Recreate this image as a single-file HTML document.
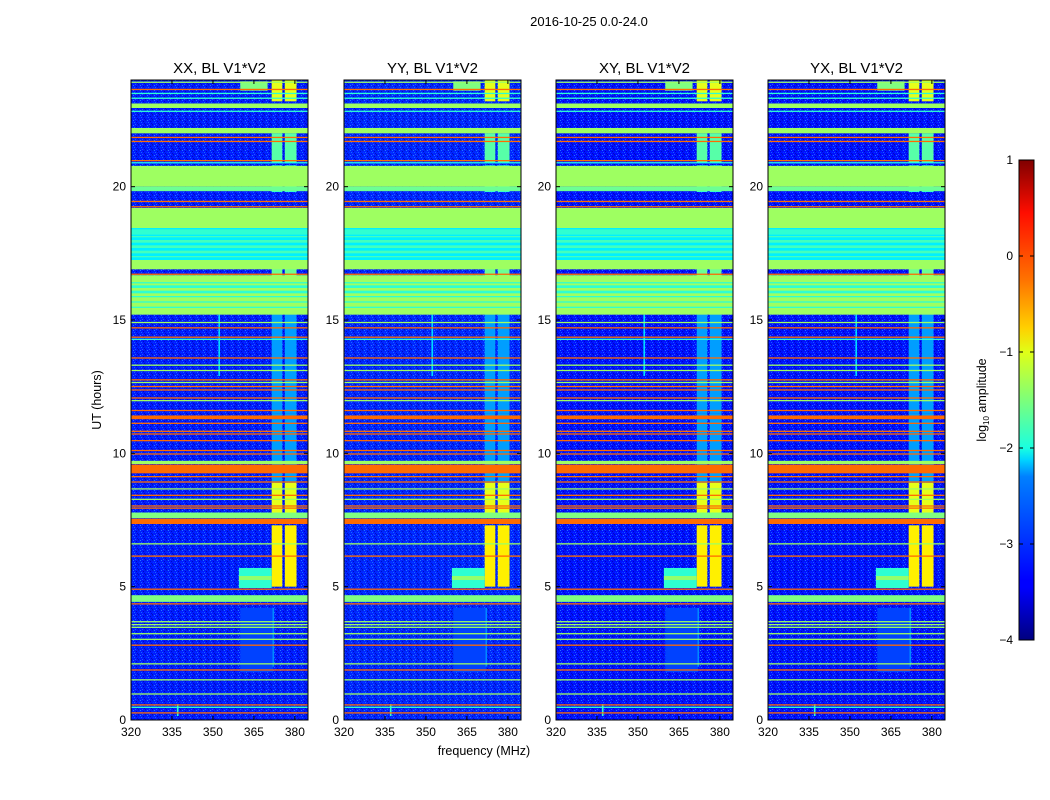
<!DOCTYPE html>
<html><head><meta charset="utf-8"><style>
body{margin:0;background:#fff;font-family:"Liberation Sans","DejaVu Sans",sans-serif;}
svg{display:block}
text{font-family:"Liberation Sans","DejaVu Sans",sans-serif;fill:#000}
</style></head><body>
<svg id="fig" width="1050" height="800" viewBox="0 0 1050 800" xmlns="http://www.w3.org/2000/svg">
<defs>
<linearGradient id="jet" x1="0" y1="1" x2="0" y2="0">
<stop offset="0" stop-color="#00007f"/><stop offset="0.11" stop-color="#0000ff"/><stop offset="0.125" stop-color="#0000ff"/>
<stop offset="0.34" stop-color="#0080ff"/><stop offset="0.375" stop-color="#00d4ff"/><stop offset="0.4" stop-color="#1affe0"/>
<stop offset="0.5" stop-color="#7dff7a"/><stop offset="0.6" stop-color="#e0ff17"/><stop offset="0.65" stop-color="#ffd000"/>
<stop offset="0.75" stop-color="#ff7300"/><stop offset="0.89" stop-color="#ff0d00"/><stop offset="1" stop-color="#800000"/>
</linearGradient>
<pattern id="noise" width="7" height="5" patternUnits="userSpaceOnUse">
<rect x="0" y="0" width="1" height="1" fill="#30a0ff" opacity="0.7"/><rect x="3" y="1" width="1" height="1" fill="#000090" opacity="0.6"/>
<rect x="1" y="2" width="1" height="1" fill="#20c0ff" opacity="0.5"/><rect x="4" y="3" width="1" height="1" fill="#0000a0" opacity="0.6"/>
<rect x="5" y="0" width="1" height="1" fill="#0030a0" opacity="0.5"/><rect x="2" y="4" width="1" height="1" fill="#4080ff" opacity="0.6"/>
<rect x="6" y="2" width="1" height="1" fill="#0050ff" opacity="0.6"/><rect x="5" y="4" width="1" height="1" fill="#000080" opacity="0.5"/>
</pattern>
</defs>
<text x="589" y="26" font-size="13" text-anchor="middle">2016-10-25 0.0-24.0</text>
<text x="484" y="755" font-size="12.5" text-anchor="middle">frequency (MHz)</text>
<text transform="translate(101,400) rotate(-90)" font-size="12.5" text-anchor="middle">UT (hours)</text>
<g id="panels"></g>
<g>
<rect x="1019" y="160" width="15" height="480" fill="url(#jet)" stroke="#000" stroke-width="1"/>
<g id="cbticks"></g>
<text transform="translate(986,400) rotate(-90)" font-size="12.5" text-anchor="middle">log<tspan font-size="8" dy="3">10</tspan><tspan dy="-3"> amplitude</tspan></text>
</g>
</svg>
<script>
// ---- data ----
const panelTitles = ["XX, BL V1*V2","YY, BL V1*V2","XY, BL V1*V2","YX, BL V1*V2"];
const xTicks = [320,335,350,365,380];
const yTicks = [0,5,10,15,20];
const cbTicks = [1,0,-1,-2,-3,-4];
const cbLabels = ["1","0","\u22121","\u22122","\u22123","\u22124"];
const backgroundLevel = [-3.25,-3.2,-3.3,-3.3];
// full-width time bands: [startHour, endHour, log10 amplitude]
const bandStart = [23.88,23.62,23.47,22.95,23.3,22.8,22.0,21.82,21.67,20.95,20.88,20.0,19.83,19.42,19.22,18.45,17.25,16.9,16.7,15.2,14.88,14.68,14.33,14.25,13.55,13.28,13.08,12.73,12.62,12.48,12.35,12.05,11.95,11.58,11.28,11.1,10.8,10.7,10.45,10.08,9.95,9.6,9.25,9.1,8.9,8.64,8.4,8.25,8.0,7.92,7.57,7.35,6.58,6.12,4.88,4.43,4.33,3.66,3.55,3.45,3.21,3.0,2.78,2.08,1.85,1.48,0.95,0.54,0.4,0.24,17.3,17.5,17.7,17.9,18.05,18.2,15.4,15.6,15.8,16.0,16.2,16.35];
const bandEnd =   [23.94,23.67,23.52,23.12,23.34,22.85,22.2,21.87,21.72,21.0,20.92,20.78,20.0,19.47,19.27,19.2,18.45,17.25,16.74,16.68,14.93,14.73,14.38,14.3,13.6,13.33,13.13,12.78,12.68,12.53,12.4,12.1,12.0,11.63,11.42,11.15,10.85,10.75,10.5,10.13,10.0,9.72,9.58,9.15,8.95,8.69,8.45,8.3,8.05,7.97,7.78,7.55,6.63,6.17,4.93,4.68,4.38,3.71,3.6,3.5,3.26,3.05,2.83,2.13,1.9,1.53,1.0,0.59,0.5,0.29,17.4,17.6,17.8,18.0,18.15,18.4,15.5,15.7,15.9,16.1,16.3,16.42];
const bandLevel = [-1.35,-0.15,-1.9,-1.35,-1.9,-1.9,-1.35,-0.15,-0.15,-0.15,-2.0,-1.35,-1.6,-0.15,-0.15,-1.35,-2.2,-1.35,-0.15,-1.35,-1.35,-0.15,-0.15,-1.9,-0.15,-1.35,-1.35,-0.15,-1.35,-0.15,-0.15,-0.15,-1.35,-0.15,-0.15,-0.15,-0.15,-0.15,-0.15,-0.15,-0.15,-1.35,-0.15,-0.15,-0.15,-1.35,-0.15,-1.35,-0.15,-0.15,-1.5,-0.15,-1.35,-0.15,-0.15,-1.5,-0.15,-1.35,-1.35,-1.35,-1.35,-1.35,-0.15,-1.35,-0.15,-1.35,-1.35,-0.15,-1.9,-0.15,-1.8,-1.8,-1.8,-1.8,-1.8,-1.9,-1.9,-1.9,-1.9,-1.9,-1.9,-1.9];
// rectangular features: [freq0, freq1, hour0, hour1, level]
const featF0 = [371.5,376.3,371.5,376.3,371.5,376.3,371.5,376.3,371.5,376.3,371.5,376.3,371.5,376.3,371.5,376.3,371.5,376.3,360,359.5,359.5,360,336.8,352,371.8];
const featF1 = [375.4,380.6,375.4,380.6,375.4,380.6,375.4,380.6,375.4,380.6,375.4,380.6,375.4,380.6,375.4,380.6,375.4,380.6,370,371.5,371.5,372,337.4,352.6,372.4];
const featH0 = [5.0,5.0,7.6,7.6,8.9,8.9,11.5,11.5,15.3,15.3,17.3,17.3,19.8,19.8,20.9,20.9,23.2,23.2,23.6,4.95,5.25,1.8,0.15,12.9,2.0];
const featH1 = [7.3,7.3,8.9,8.9,11.5,11.5,15.3,15.3,17.3,17.3,18.6,18.6,20.8,20.8,22.0,22.0,24.0,24.0,23.95,5.7,5.4,4.2,0.6,15.2,4.2];
const featLevel = [-0.8,-0.8,-1.0,-1.0,-2.6,-2.6,-2.6,-2.6,-1.6,-1.6,-1.1,-1.1,-1.9,-1.9,-1.7,-1.7,-1.0,-1.0,-1.5,-1.9,-1.4,-3.05,-1.9,-2.3,-2.7];
// ---- scales ----
const PX=[131,344,556,768], PW=177, PT=80, PH=640;
const FMIN=320, FMAX=384.8, HMAX=24;
function xs(p,f){return PX[p]+(f-FMIN)/(FMAX-FMIN)*PW;}
function ys(h){return PT+PH-(h/HMAX)*PH;}
function jet(v){
  let t=Math.max(0,Math.min(1,(v+4)/5));
  const c=x=>Math.round(255*Math.max(0,Math.min(1,x)));
  return `rgb(${c(1.5-Math.abs(4*t-3))},${c(1.5-Math.abs(4*t-2))},${c(1.5-Math.abs(4*t-1))})`;
}
const NS="http://www.w3.org/2000/svg";
function mk(tag,attrs,parent){const e=document.createElementNS(NS,tag);for(const k in attrs)e.setAttribute(k,attrs[k]);parent.appendChild(e);return e;}
const G=document.getElementById('panels');
for(let p=0;p<4;p++){
  const g=mk('g',{},G);
  
  
  const bg=mk('rect',{x:PX[p],y:PT,width:PW,height:PH,fill:jet(backgroundLevel[p])},g);
  
  
  const nz=mk('rect',{x:PX[p],y:PT,width:PW,height:PH,fill:'url(#noise)'},g);
  
  
  for(let i=0;i<featF0.length;i++){
    const x0=xs(p,featF0[i]), x1=xs(p,featF1[i]), y0=ys(featH1[i]), y1=ys(featH0[i]);
    const r=mk('rect',{x:x0,y:y0,width:x1-x0,height:y1-y0,fill:jet(featLevel[i])},g);
    
    
  }
  for(let i=0;i<bandStart.length;i++){
    const y0=ys(bandEnd[i]), y1=ys(bandStart[i]);
    const thin=(bandEnd[i]-bandStart[i])<0.1;
    const r=mk('rect',{x:PX[p],y:y0,width:PW,height:thin?1.3:(y1-y0),fill:jet(bandLevel[i])},g);
    
    
  }
  const fr=mk('rect',{x:PX[p],y:PT,width:PW,height:PH,fill:'none',stroke:'#000','stroke-width':1},g);
  
  
  const t=mk('text',{x:PX[p]+PW/2,y:73,'font-size':15,'text-anchor':'middle'},g);
  t.textContent=panelTitles[p];
  
  
  xTicks.forEach(f=>{
    const x=xs(p,f);
    mk('line',{x1:x,x2:x,y1:PT+PH,y2:PT+PH-4,stroke:'#000'},g);
    mk('line',{x1:x,x2:x,y1:PT,y2:PT+4,stroke:'#000'},g);
    const l=mk('text',{x:x,y:PT+PH+16,'font-size':12,'text-anchor':'middle'},g);
    l.textContent=f;
    
    
  });
  yTicks.forEach(h=>{
    const y=ys(h);
    mk('line',{x1:PX[p],x2:PX[p]+4,y1:y,y2:y,stroke:'#000'},g);
    mk('line',{x1:PX[p]+PW,x2:PX[p]+PW-4,y1:y,y2:y,stroke:'#000'},g);
    const l=mk('text',{x:PX[p]-5,y:y+4,'font-size':12,'text-anchor':'end'},g);
    l.textContent=h;
    
    
  });
}
const CB=document.getElementById('cbticks');
cbTicks.forEach((v,i)=>{
  const y=160+(1-v)/5*480;
  mk('line',{x1:1019,x2:1023,y1:y,y2:y,stroke:'#000'},CB);
  mk('line',{x1:1034,x2:1030,y1:y,y2:y,stroke:'#000'},CB);
  const l=mk('text',{x:1013,y:y+4,'font-size':12,'text-anchor':'end'},CB);
  l.textContent=cbLabels[i];
  
  
});
</script>
</body></html>
